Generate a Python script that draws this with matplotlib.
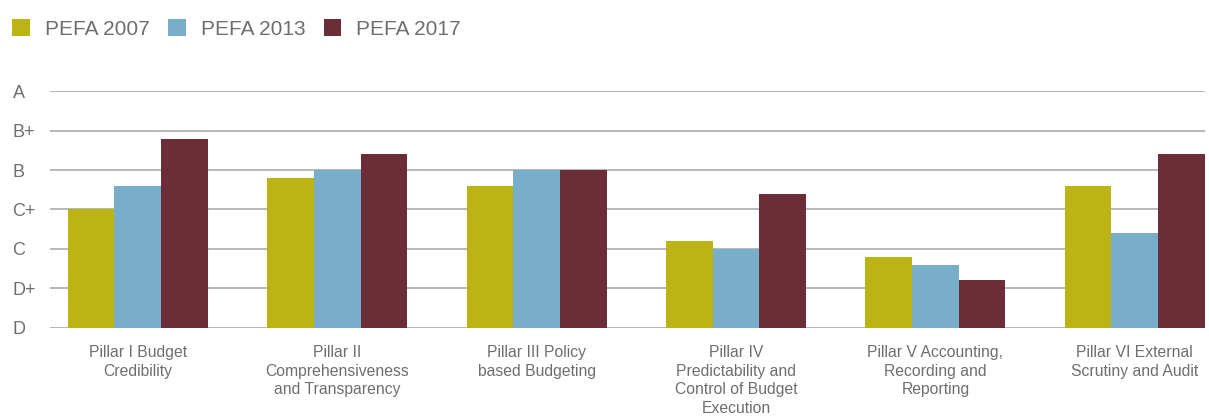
import numpy as np
import matplotlib.pyplot as plt
from matplotlib.patches import Patch

plt.rcParams['font.family'] = ['Liberation Sans', 'DejaVu Sans']

# PEFA scores per pillar (D=0, D+=1, C=2, C+=3, B=4, B+=5, A=6)
pillars = ["Pillar I Budget\nCredibility",
           "Pillar II\nComprehensiveness\nand Transparency",
           "Pillar III Policy\nbased Budgeting",
           "Pillar IV\nPredictability and\nControl of Budget\nExecution",
           "Pillar V Accounting,\nRecording and\nReporting",
           "Pillar VI External\nScrutiny and Audit"]
pefa_2007 = [3.0, 3.8, 3.6, 2.2, 1.8, 3.6]
pefa_2013 = [3.6, 4.0, 4.0, 2.0, 1.6, 2.4]
pefa_2017 = [4.8, 4.4, 4.0, 3.4, 1.2, 4.4]
grades = ["D", "D+", "C", "C+", "B", "B+", "A"]

series = [("PEFA 2007", pefa_2007, "#BCB315"),
          ("PEFA 2013", pefa_2013, "#79AECB"),
          ("PEFA 2017", pefa_2017, "#6B2E39")]

txt = "#6E6E6E"
grid = "#ABABAB"

fig = plt.figure(figsize=(12.09, 4.19), dpi=100)
ax = fig.add_axes([0.0414, 0.2179, 0.9553, 0.5642])

x = np.arange(len(pillars))
w = 0.234
for k, (name, vals, col) in enumerate(series):
    ax.bar(x + (k - 1) * w, vals, width=w, color=col, zorder=3)

ax.set_ylim(0, 6)
ax.set_xlim(-0.44, 5.352)
ax.set_yticks(range(len(grades)))
ax.set_yticklabels(grades)
for t in ax.get_yticklabels():
    t.set_horizontalalignment("left")
ax.tick_params(axis="y", length=0, pad=27, labelsize=13, labelcolor=txt)
ax.set_xticks(x)
ax.set_xticklabels(pillars, fontsize=11.3, color=txt, linespacing=1.3, va="top")
ax.tick_params(axis="x", length=0, pad=12.5)
ax.yaxis.grid(True, color=grid, linewidth=1.2, zorder=0)
for s in ax.spines.values():
    s.set_visible(False)

handles = [Patch(facecolor=c, edgecolor="none", label=n) for n, _, c in series]
fig.legend(handles=handles, loc="upper left", bbox_to_anchor=(-0.0055, 0.999),
           ncol=3, frameon=False, fontsize=15, labelcolor=txt,
           handlelength=0.85, handleheight=0.85, handletextpad=0.72,
           columnspacing=0.88)

fig.savefig("out.png", dpi=100)
